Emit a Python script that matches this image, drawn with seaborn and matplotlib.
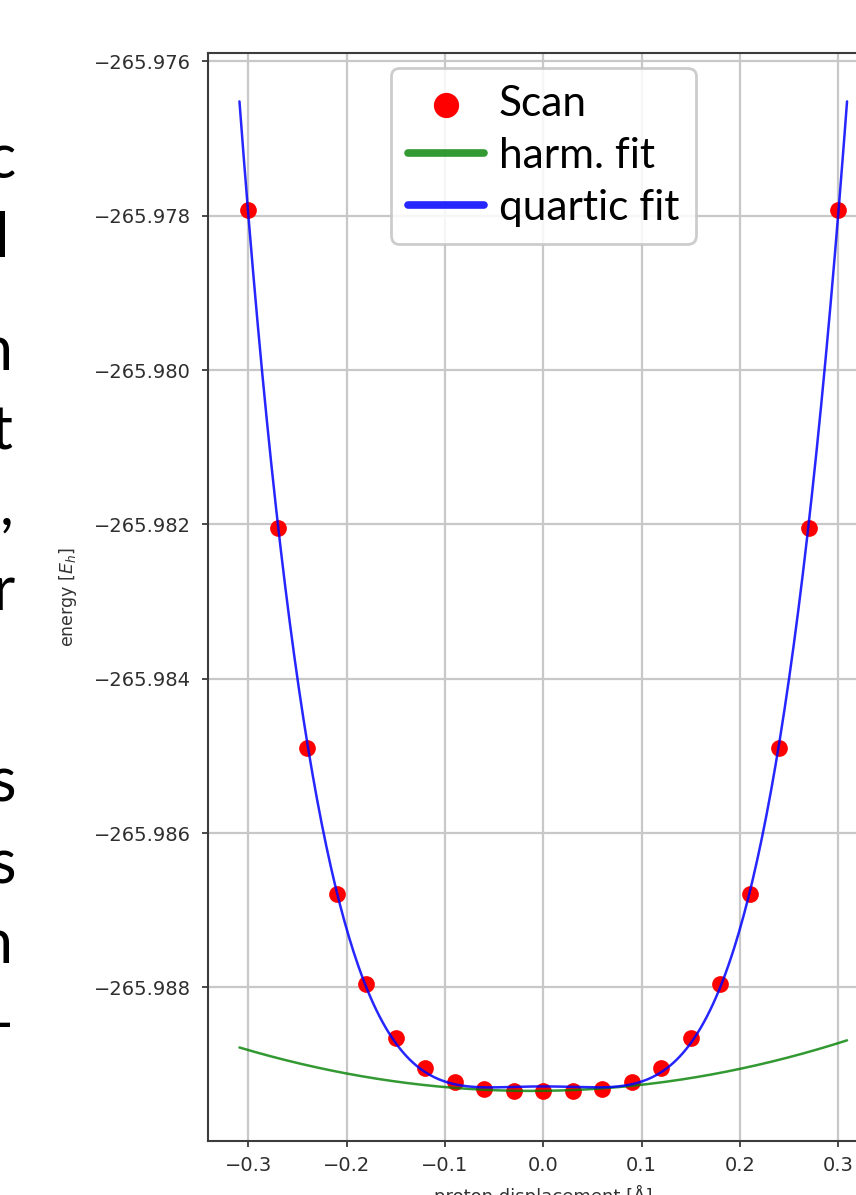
import numpy as np
import matplotlib
matplotlib.use("Agg")
import matplotlib.pyplot as plt
import seaborn as sns

# ---------------- data ----------------
scan_x = [-0.30, -0.27, -0.24, -0.21, -0.18, -0.15, -0.12, -0.09, -0.06, -0.03, 0.00,
          0.03, 0.06, 0.09, 0.12, 0.15, 0.18, 0.21, 0.24, 0.27, 0.30]
scan_e = [-265.97793, -265.98204, -265.98490, -265.98679, -265.98796, -265.98865,
          -265.98905, -265.98923, -265.98931, -265.98934, -265.98934,
          -265.98934, -265.98931, -265.98923, -265.98905, -265.98865,
          -265.98796, -265.98679, -265.98490, -265.98204, -265.97793]
fit_range = [-0.309, 0.309]
# harmonic fit: E = e0 + b*x + k*x^2
harm_coef = {"e0": -265.98934, "b": 0.00015, "k": 0.00637}

x_ticks = [-0.3, -0.2, -0.1, 0.0, 0.1, 0.2, 0.3]
y_ticks = [-265.988, -265.986, -265.984, -265.982, -265.980, -265.978, -265.976]
legend_labels = ["Scan", "harm. fit", "quartic fit"]
side_text = ["c", "l", "n", "t", ",", "r", "s", "s", "n", "-"]
side_pos = [(16, 178), (9, 257), (13, 370), (13, 450), (14, 525), (15, 610),
            (16, 802), (16, 883), (13, 963), (13, 1043)]

# ---------------- derived curves ----------------
sx = np.array(scan_x)
se = np.array(scan_e)
ref = se.min()
quartic = np.polyfit(sx, se - ref, 4)
xf = np.linspace(fit_range[0], fit_range[1], 400)
e_quart = np.polyval(quartic, xf) + ref
e_harm = harm_coef["e0"] + harm_coef["b"] * xf + harm_coef["k"] * xf ** 2

# ---------------- figure ----------------
sns.set_style("white")
plt.rcParams["font.family"] = ["DejaVu Sans"]
W, H = 856, 1195
fig = plt.figure(figsize=(W / 100, H / 100), dpi=100)
ax = fig.add_axes([208 / W, 54 / H, 670.5 / W, 1088 / H])

sns.scatterplot(x=scan_x, y=scan_e, color="red", s=145, linewidth=0,
                label=legend_labels[0], ax=ax, zorder=3)
sns.lineplot(x=xf, y=e_harm, color="g", alpha=0.8, lw=1.8, sort=False,
             errorbar=None, label=legend_labels[1], ax=ax, zorder=4)
sns.lineplot(x=xf, y=e_quart, color="b", alpha=0.85, lw=1.8, sort=False,
             errorbar=None, label=legend_labels[2], ax=ax, zorder=5)

ax.set_xlim(-0.341, 0.341)
ax.set_ylim(-265.98999, -265.97589)
ax.set_xticks(x_ticks)
ax.set_yticks(y_ticks)
ax.set_xticklabels([f"{v:.1f}".replace("-", "\u2212") for v in x_ticks])
ax.set_yticklabels([f"{v:.3f}".replace("-", "\u2212") for v in y_ticks])

ax.grid(True, color="#c8c8c8", lw=1.6)
ax.set_axisbelow(True)
for sp in ax.spines.values():
    sp.set_color("#3c3c3c")
    sp.set_linewidth(1.5)
ax.tick_params(axis="both", which="major", labelsize=14, labelcolor="#2e2e2e",
               color="#3c3c3c", length=4.5, width=1.3, direction="out",
               left=True, bottom=True)
ax.tick_params(axis="y", pad=8)
ax.tick_params(axis="x", pad=6)

ax.set_ylabel("energy [$E_h$]", fontsize=12.5, color="#333333")
ax.yaxis.set_label_coords(-0.1924, 0.5)
ax.set_xlabel("proton displacement [Å]", fontsize=13, color="#333333")
ax.xaxis.set_label_coords(0.4996, -0.0404)

leg = ax.legend(loc="upper center", prop={"family": "Lato", "size": 30.5},
                handlelength=1.8, handletextpad=0.35, borderpad=0.4,
                labelspacing=0.33, framealpha=0.85, edgecolor="#c4c4c4",
                fancybox=True, borderaxespad=0.35, labelcolor="black")
leg.get_frame().set_linewidth(2.0)
for h in leg.legend_handles:
    if hasattr(h, "set_sizes"):
        h.set_sizes([330])
    else:
        h.set_linewidth(5.5)

for t, (px, py) in zip(side_text, side_pos):
    fig.text(px / W, 1 - py / H, t, ha="right", va="baseline",
             family="Lato", fontsize=44, color="black")

fig.savefig("out.png", dpi=100)
